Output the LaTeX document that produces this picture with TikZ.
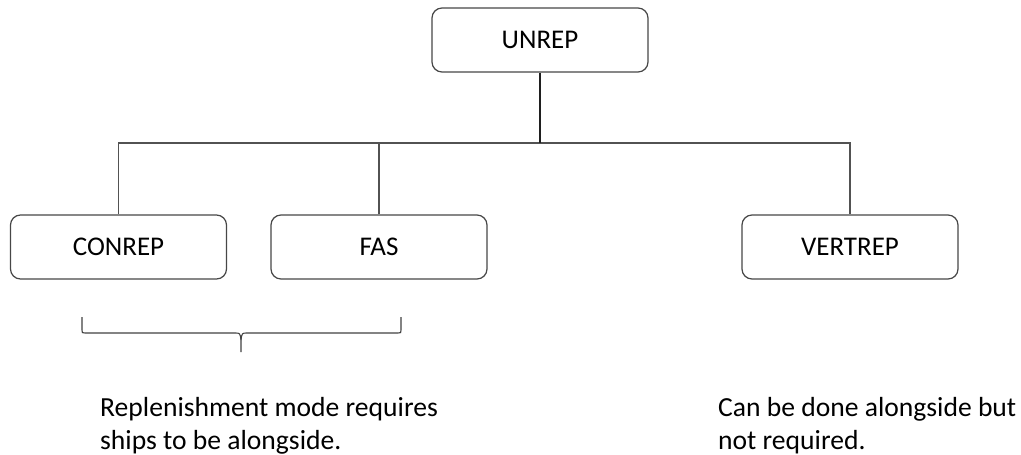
\documentclass[tikz,border=0pt]{standalone}
\usepackage{fontspec}
\setmainfont{Carlito}
\begin{document}
\begin{tikzpicture}[x=1pt,y=-1pt,
  box/.style={draw=black!72, line width=1.2pt, rounded corners=10pt,
    minimum width=216pt, minimum height=64pt, inner sep=0pt,
    font=\fontsize{27}{32}\selectfont},
  link/.style={draw=black!68, line width=1.1pt},
  trunk/.style={draw=black!88, line width=1.9pt},
  bracket/.style={draw=black!75, line width=1.1pt},
  note/.style={anchor=base west, inner sep=0pt, font=\fontsize{27.6}{33}\selectfont}]
\useasboundingbox (0,0) rectangle (1021,455);

% hierarchy boxes
\node[box] (unrep)   at (540,40)    {UNREP};
\node[box] (conrep)  at (118.5,247) {CONREP};
\node[box] (fas)     at (379,247)   {FAS};
\node[box] (vertrep) at (850,247)   {VERTREP};

% connectors
\coordinate (bus) at (540,143);
\draw[link] (conrep.north) |- (bus) -| (vertrep.north);
\draw[link] (fas.north) -- (fas.north |- bus);
\draw[trunk] (unrep.south) -- (bus);

% brace under CONREP and FAS
\coordinate (bl) at (82,317);
\coordinate (br) at (401,317);
\coordinate (tip) at (241,352);
\coordinate (fork) at (241,340);
\draw[bracket] (bl) -- (82,330) .. controls (82,333) .. (85,333) -- (235,333)
  .. controls (240,333) .. (fork) -- (tip);
\draw[bracket] (br) -- (401,330) .. controls (401,333) .. (398,333) -- (247,333)
  .. controls (242,333) .. (fork);

% notes
\node[note] (noteA1) at (100,416) {Replenishment mode requires};
\node[note] (noteA2) at (100,449) {ships to be alongside.};
\node[note] (noteB1) at (718,416) {Can be done alongside but};
\node[note] (noteB2) at (718,449) {not required.};
\end{tikzpicture}
\end{document}
